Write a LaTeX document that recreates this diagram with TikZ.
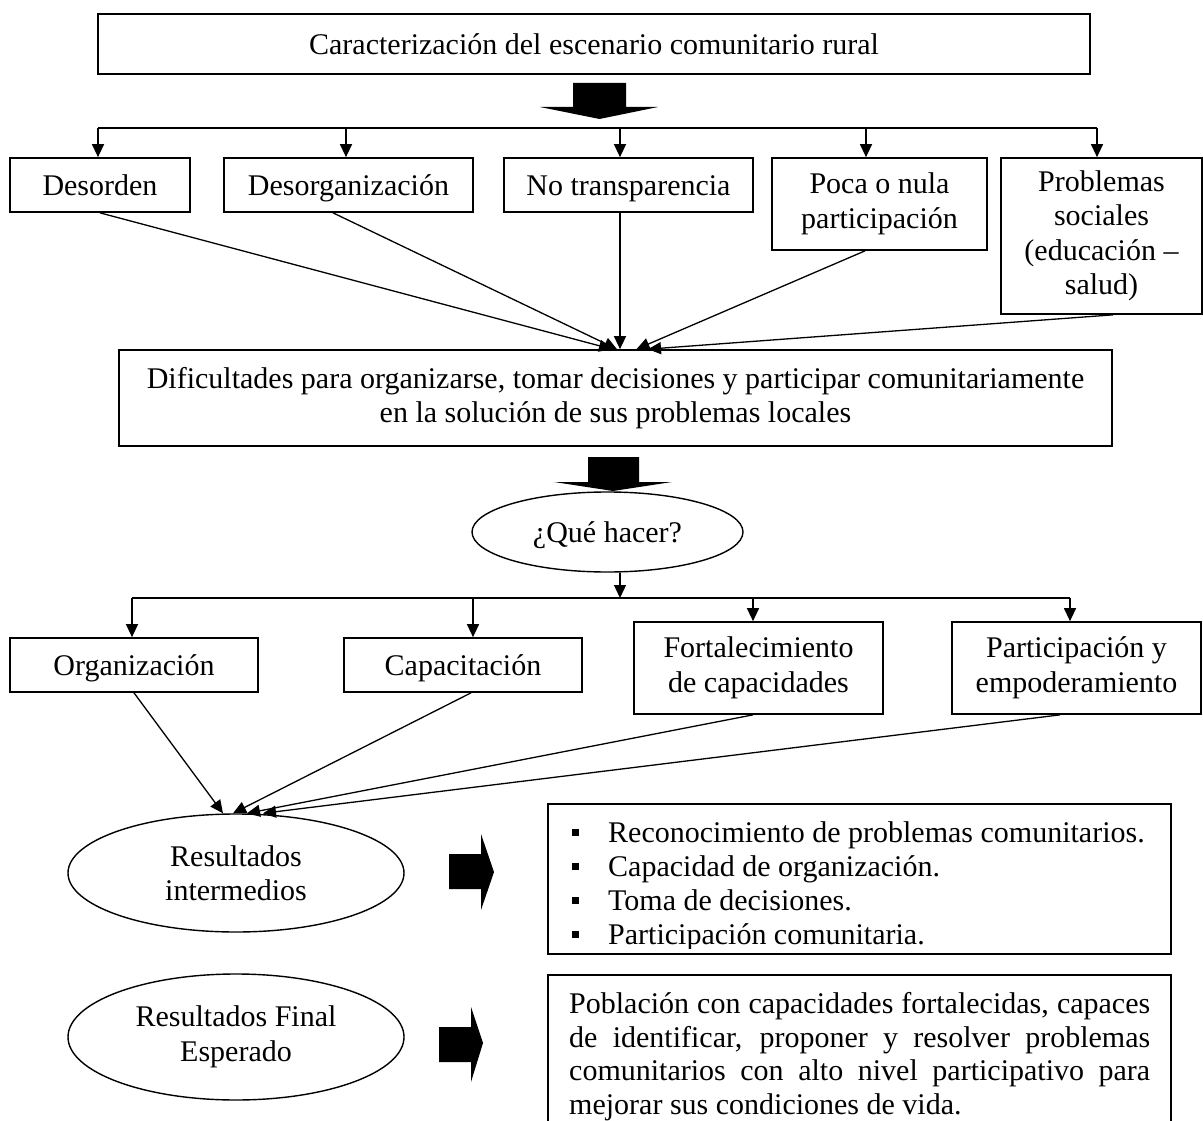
\documentclass[tikz,border=0pt]{standalone}
\usepackage{fontspec}
\setmainfont{Liberation Serif}
\usetikzlibrary{arrows.meta,shapes.geometric}
\begin{document}
\begin{tikzpicture}[x=1pt,y=-1pt,
  every node/.style={font=\fontsize{30}{34.5}\selectfont},
  box/.style={draw,line width=1.7pt,inner sep=0pt,align=center},
  one/.style={text height=20.5pt,text depth=0pt},
  oval/.style={draw,ellipse,line width=1.4pt,inner sep=0pt,align=center},
  conn/.style={line width=1.3pt,-{Triangle[length=13pt,width=12pt]}},
  bar/.style={line width=2.8pt},
  blk/.style={fill=black},
  txt/.style={inner sep=0pt,anchor=base west}]
\clip (0,0) rectangle (1203,1121);
\fill[white] (0,0) rectangle (1203,1121);

% top box
\node[box,one,minimum width=992pt,minimum height=60pt] (top) at (594,44) {Caracterización del escenario comunitario rural};
\fill[blk] (573,83) -- (626,83) -- (626,107) -- (658,107) -- (599.5,119) -- (540,107) -- (573,107) -- cycle;

% first branch
\coordinate (h1) at (98,128);
\coordinate (h2) at (346,128);
\coordinate (h3) at (620,128);
\coordinate (h4) at (866,128);
\coordinate (h5) at (1097,128);
\draw[bar] (h1) -- (h5);

\node[box,one,minimum width=180pt,minimum height=54pt] (d1) at (100,185) {Desorden};
\node[box,one,minimum width=249pt,minimum height=54pt] (d2) at (348.5,185) {Desorganización};
\node[box,one,minimum width=249pt,minimum height=54pt] (d3) at (628.5,185) {No transparencia};
\node[box,minimum width=215pt,minimum height=92pt] (d4) at (879.5,204) {Poca o nula\\participación};
\node[box,minimum width=201pt,minimum height=156pt] (d5) at (1101.5,236) {Problemas\\sociales\\(educación –\\salud)};

\draw[conn] (h1) -- (h1 |- d1.north);
\draw[conn] (h2) -- (h2 |- d2.north);
\draw[conn] (h3) -- (h3 |- d3.north);
\draw[conn] (h4) -- (h4 |- d4.north);
\draw[conn] (h5) -- (h5 |- d5.north);

\node[box,minimum width=993pt,minimum height=96pt] (dif) at (615.5,398) {Dificultades para organizarse, tomar decisiones y participar comunitariamente\\en la solución de sus problemas locales};

\draw[conn] (d1.south) -- ([xshift=-3.5pt]dif.north);
\draw[conn] ([xshift=-15.5pt]d2.south) -- ([xshift=1.5pt]dif.north);
\draw[conn] ([xshift=-8.5pt]d3.south) -- ([xshift=4.5pt]dif.north);
\draw[conn] ([xshift=-14.5pt]d4.south) -- ([xshift=21pt]dif.north);
\draw[conn] ([xshift=11.5pt]d5.south) -- ([xshift=32.5pt]dif.north);

\fill[blk] (588,457) -- (639,457) -- (639,482) -- (672,482) -- (613,491) -- (554,482) -- (588,482) -- cycle;

\node[oval,one,minimum width=271pt,minimum height=80pt] (q) at (607.5,532) {¿Qué hacer?};

% second branch
\coordinate (g0) at (620,598);
\draw[conn] (q.south -| g0) -- (g0);
\coordinate (k1) at (132,598);
\coordinate (k2) at (473,598);
\coordinate (k3) at (753,598);
\coordinate (k4) at (1070,598);
\draw[bar,line width=2.2pt] (k1) -- (k4);

\node[box,one,minimum width=248pt,minimum height=54pt] (e1) at (134,665) {Organización};
\node[box,one,minimum width=238pt,minimum height=54pt] (e2) at (463,665) {Capacitación};
\node[box,minimum width=249pt,minimum height=92pt] (e3) at (758.5,668) {Fortalecimiento\\de capacidades};
\node[box,minimum width=249pt,minimum height=92pt] (e4) at (1076.5,668) {Participación y\\empoderamiento};

\draw[conn] (k1) -- (k1 |- e1.north);
\draw[conn] (k2) -- (k2 |- e2.north);
\draw[conn] (k3) -- (k3 |- e3.north);
\draw[conn] (k4) -- (k4 |- e4.north);

\node[oval,minimum width=336pt,minimum height=118pt] (r1) at (236,873) {Resultados\\intermedios};
\node[oval,minimum width=336pt,minimum height=126pt] (r2) at (236,1037) {Resultados Final\\Esperado};

\draw[conn] (e1.south) -- ([xshift=-13pt]r1.north);
\draw[conn] ([xshift=8pt]e2.south) -- ([xshift=-3pt]r1.north);
\draw[conn] ([xshift=-5.5pt]e3.south) -- ([xshift=11pt]r1.north);
\draw[conn] ([xshift=-16.5pt]e4.south) -- ([xshift=27pt]r1.north);

\fill[blk] (449,854) -- (481,854) -- (481,834) -- (494,872) -- (481,910) -- (481,889) -- (449,889) -- cycle;
\fill[blk] (439,1027) -- (471,1027) -- (471,1007) -- (483,1043) -- (471,1082) -- (471,1062) -- (439,1062) -- cycle;

% intermediate results list
\node[draw,line width=1.7pt,minimum width=623pt,minimum height=150pt,inner sep=0pt] (lb) at (859.5,879) {};
\begin{scope}
\clip (549,805) rectangle (1170,948);
\node[txt] (l1) at (572,842) {\makebox[36pt][l]{\rule[6pt]{7pt}{7pt}}Reconocimiento de problemas comunitarios.};
\node[txt] (l2) at (572,876) {\makebox[36pt][l]{\rule[6pt]{7pt}{7pt}}Capacidad de organización.};
\node[txt] (l3) at (572,910) {\makebox[36pt][l]{\rule[6pt]{7pt}{7pt}}Toma de decisiones.};
\node[txt] (l4) at (572,944) {\makebox[36pt][l]{\rule[6pt]{7pt}{7pt}}Participación comunitaria.};
\end{scope}

% final result
\node[draw,line width=1.7pt,minimum width=623pt,minimum height=200pt,inner sep=0pt] (fb) at (859.5,1075) {};
\node[txt] (f1) at (569,1013) {\makebox[581pt][s]{Población con capacidades fortalecidas, capaces}};
\node[txt] (f2) at (569,1047) {\makebox[581pt][s]{de identificar, proponer y resolver problemas}};
\node[txt] (f3) at (569,1080) {\makebox[581pt][s]{comunitarios con alto nivel participativo para}};
\node[txt] (f4) at (569,1114) {mejorar sus condiciones de vida.};
\end{tikzpicture}
\end{document}
